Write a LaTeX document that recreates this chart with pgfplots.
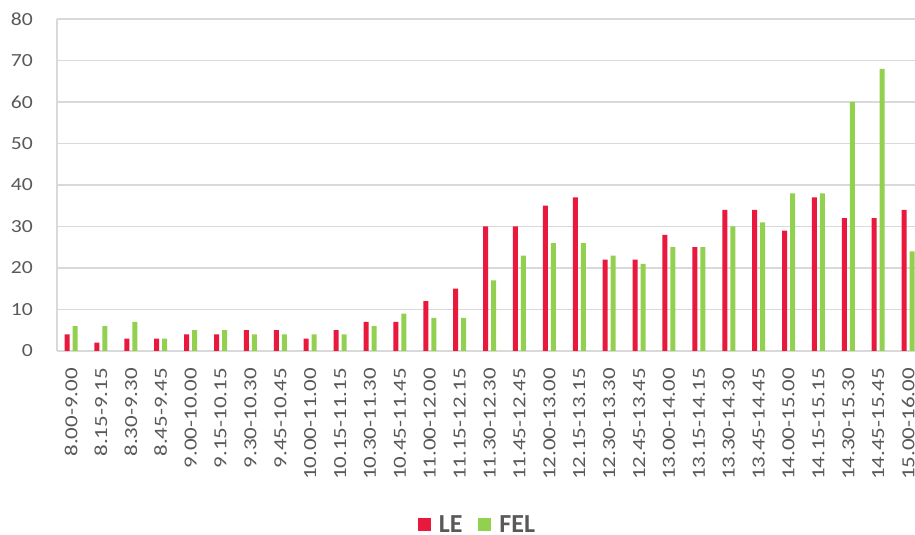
\documentclass[border=0pt]{standalone}
\usepackage{fontspec}
\setmainfont{Carlito}
\newfontfamily\xfont[FakeStretch=1.24]{Carlito}
\newfontfamily\yfont[FakeStretch=1.17]{Carlito}
\usepackage{pgfplots}
\usepackage{pgfplotstable}
\pgfplotsset{compat=1.18}

\definecolor{lered}{HTML}{E8193C}
\definecolor{felgreen}{HTML}{92D050}
\definecolor{gridgray}{HTML}{D9D9D9}
\definecolor{txtgray}{HTML}{595959}

% x = slot index, LE and FEL counts
\pgfplotstableread{
x  le fel
0  4  6
1  2  6
2  3  7
3  3  3
4  4  5
5  4  5
6  5  4
7  5  4
8  3  4
9  5  4
10 7  6
11 7  9
12 12 8
13 15 8
14 30 17
15 30 23
16 35 26
17 37 26
18 22 23
19 22 21
20 28 25
21 25 25
22 34 30
23 34 31
24 29 38
25 37 38
26 32 60
27 32 68
28 34 24
}\slots

\begin{document}
\begin{tikzpicture}
\begin{axis}[
    name=ax,
    scale only axis,
    width=858bp, height=332bp,
    xmin=-0.47, xmax=28.23,
    ymin=0, ymax=80,
    ytick={0,10,...,80},
    xtick={0,...,28},
    xticklabels={8.00-9.00,8.15-9.15,8.30-9.30,8.45-9.45,9.00-10.00,9.15-10.15,
        9.30-10.30,9.45-10.45,10.00-11.00,10.15-11.15,10.30-11.30,10.45-11.45,
        11.00-12.00,11.15-12.15,11.30-12.30,11.45-12.45,12.00-13.00,12.15-13.15,
        12.30-13.30,12.45-13.45,13.00-14.00,13.15-14.15,13.30-14.30,13.45-14.45,
        14.00-15.00,14.15-15.15,14.30-15.30,14.45-15.45,15.00-16.00},
    /pgf/number format/assume math mode=true,
    axis x line*=bottom, axis y line*=left,
    axis line style={gridgray, line width=1.2bp},
    ymajorgrids,
    grid style={gridgray, line width=1.2bp},
    major tick length=0pt,
    xticklabel style={rotate=90, anchor=east, inner sep=0pt, text=txtgray,
        font={\fontsize{18.5bp}{20bp}\xfont}},
    xticklabel shift=17bp,
    yticklabel style={anchor=east, inner sep=0pt, xshift=-24bp, text=txtgray,
        font={\fontsize{18.5bp}{20bp}\yfont}},
    legend columns=2,
    legend style={at={(0.49,-0.524)}, anchor=center, draw=none, fill=none,
        inner sep=0pt, text=txtgray,
        font={\fontsize{26bp}{28bp}\selectfont\bfseries},
        nodes={inner xsep=2bp},
        /tikz/every odd column/.append style={column sep=6bp},
        /tikz/every even column/.append style={column sep=14bp}},
    legend image code/.code={\path[#1] (0bp,-6.5bp) rectangle (13bp,6.5bp);},
]
\addplot[ybar, bar width=5bp, bar shift=-4bp, fill=lered, draw=none]
    table[x=x, y=le] {\slots};
\addlegendentry{LE}
\addplot[ybar, bar width=5bp, bar shift=4bp, fill=felgreen, draw=none]
    table[x=x, y=fel] {\slots};
\addlegendentry{FEL}
\end{axis}
\pgfresetboundingbox
\path[use as bounding box] ([xshift=-57bp,yshift=-184bp]ax.south west)
    rectangle ([yshift=19bp]ax.north east);
\end{tikzpicture}
\end{document}
